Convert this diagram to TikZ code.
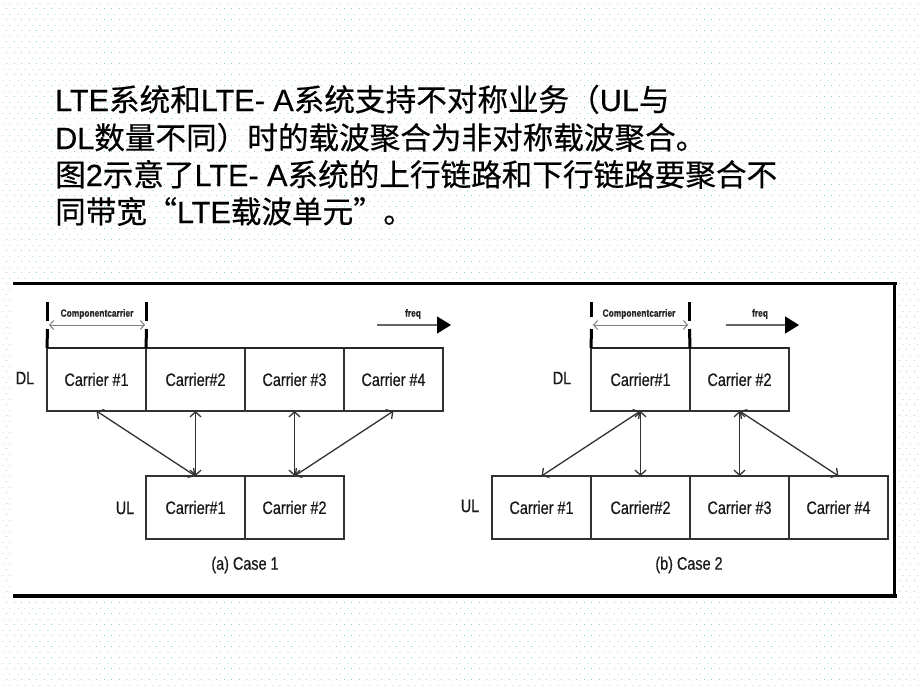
\documentclass[tikz,border=0pt]{standalone}
\usepackage{fontspec}
\setmainfont{Liberation Sans}[FakeBold=0.4]
\newfontfamily\cjk{Noto Sans CJK SC}[FakeBold=0.4]
\newfontfamily\narrow[FakeStretch=0.8,FakeBold=0.5]{Liberation Sans}
\usetikzlibrary{arrows.meta,patterns}
\definecolor{dotc}{RGB}{140,210,200}
\definecolor{linec}{RGB}{50,50,50}
\pgfdeclarepatternformonly{bgdots}{\pgfpointorigin}{\pgfpoint{15pt}{11pt}}{\pgfpoint{15pt}{11pt}}{%
 \pgfpathrectangle{\pgfpoint{0pt}{0pt}}{\pgfpoint{1pt}{1pt}}%
 \pgfpathrectangle{\pgfpoint{7.5pt}{0pt}}{\pgfpoint{1pt}{1pt}}%
 \pgfpathrectangle{\pgfpoint{3.75pt}{5.5pt}}{\pgfpoint{1pt}{1pt}}%
 \pgfpathrectangle{\pgfpoint{11.25pt}{5.5pt}}{\pgfpoint{1pt}{1pt}}%
 \pgfusepath{fill}}
\newcommand{\zh}[1]{{\cjk #1}}
\begin{document}
\begin{tikzpicture}[x=1pt,y=-1pt,
  carrier/.style={draw=linec, line width=1.4pt, minimum width=99pt, minimum height=63pt,
    inner sep=0pt, outer sep=0pt, font=\narrow\fontsize{18}{21}\selectfont, text=black!90},
  lbl/.style={font=\narrow\fontsize{18}{21}\selectfont, text=black!90, inner sep=0pt},
  smalltxt/.style={font=\narrow\bfseries\fontsize{10.5}{12}\selectfont, text=black!85, inner sep=0pt},
  titletxt/.style={font=\fontsize{30.6}{36}\selectfont, anchor=base west, inner sep=0pt},
  linkarrow/.style={draw=linec, line width=1.3pt,
    {Straight Barb[length=5pt,width=11pt]}-{Straight Barb[length=5pt,width=11pt]}},
  cctick/.style={line width=3pt, black},
  ccspan/.style={draw=gray, line width=1pt,
    {Straight Barb[length=4pt,width=9pt]}-{Straight Barb[length=4pt,width=9pt]}},
  freqarrow/.style={draw=gray!80!black, line width=1.3pt,
    -{Triangle[length=14pt,width=17pt,color=black]}},
  frameline/.style={black},
]
\useasboundingbox (0,0) rectangle (920,690);
\fill[white] (0,0) rectangle (920,690);
\fill[pattern=bgdots, pattern color=dotc] (0,0) rectangle (920,690);
\fill[white] (13,283) rectangle (894,595);

% title text
\node[titletxt] (t1) at (55,111) {LTE\zh{系统和}LTE- A\zh{系统支持不对称业务（}UL\zh{与}};
\node[titletxt] (t2) at (55,149) {DL\zh{数量不同）时的载波聚合为非对称载波聚合。}};
\node[titletxt] (t3) at (55,186) {\zh{图}2\zh{示意了}LTE- A\zh{系统的上行链路和下行链路要聚合不}};
\node[titletxt] (t4) at (55,223) {\zh{同带宽}\makebox[30pt][r]{\zh{“}}LTE\zh{载波单元}\makebox[30pt][l]{\zh{”}}\zh{。}};

% frame
\coordinate (fTL) at (13,283);
\coordinate (fTR) at (897,283);
\coordinate (fRT) at (894.5,283);
\coordinate (fRB) at (894.5,597);
\coordinate (fBL) at (13,595.5);
\coordinate (fBR) at (897,595.5);
\draw[frameline, line width=3pt] (fTL) -- (fTR);
\draw[frameline, line width=3pt] (fRT) -- (fRB);
\draw[frameline, line width=4pt] (fBL) -- (fBR);

% ---------- Case 1 ----------
\node[carrier] (a1) at (96.5,379.5) {Carrier \#1};
\node[carrier] (a2) at (195.5,379.5) {Carrier\#2};
\node[carrier] (a3) at (294.5,379.5) {Carrier \#3};
\node[carrier] (a4) at (393.5,379.5) {Carrier \#4};
\node[carrier] (ua1) at (195.5,507.5) {Carrier\#1};
\node[carrier] (ua2) at (294.5,507.5) {Carrier \#2};
\draw[line width=2.6pt, black!85] (a1.north west) -- (a4.north east);
\node[lbl] (dla) at (25,378) {DL};
\node[lbl] (ula) at (125,508) {UL};
\node[lbl] (capa) at (245,565) {(a) Case 1};

\coordinate (ka1) at (47.5,302);
\coordinate (ka2) at (47.5,321);
\coordinate (ka3) at (47.5,329);
\coordinate (ka4) at (146.5,302);
\coordinate (ka5) at (146.5,321);
\coordinate (ka6) at (146.5,329);
\draw[cctick] (ka1) -- (ka2);
\draw[cctick] (ka3) -- (a1.north west);
\draw[cctick] (ka4) -- (ka5);
\draw[cctick] (ka6) -- (a1.north east);
\coordinate (sa1) at (49,325);
\coordinate (sa2) at (145,325);
\draw[ccspan] (sa1) -- (sa2);
\node[smalltxt] (cca) at (97,314) {Componentcarrier};
\coordinate (fa1) at (377,325);
\coordinate (fa2) at (451,325);
\draw[freqarrow] (fa1) -- (fa2);
\node[smalltxt] (fqa) at (413,314) {freq};

\draw[linkarrow] (a1.south) -- (ua1.north);
\draw[linkarrow] (a2.south) -- (ua1.north);
\draw[linkarrow] (a3.south) -- (ua2.north);
\draw[linkarrow] (a4.south) -- (ua2.north);

% ---------- Case 2 ----------
\node[carrier] (b1) at (640.5,379.5) {Carrier\#1};
\node[carrier] (b2) at (739.5,379.5) {Carrier \#2};
\node[carrier] (ub1) at (541.5,507.5) {Carrier \#1};
\node[carrier] (ub2) at (640.5,507.5) {Carrier\#2};
\node[carrier] (ub3) at (739.5,507.5) {Carrier \#3};
\node[carrier] (ub4) at (838.5,507.5) {Carrier \#4};
\draw[line width=2.6pt, black!85] (b1.north west) -- (b2.north east);
\node[lbl] (dlb) at (562,378) {DL};
\node[lbl] (ulb) at (470,506) {UL};
\node[lbl] (capb) at (689,565) {(b) Case 2};

\coordinate (kb1) at (591.5,302);
\coordinate (kb2) at (591.5,317);
\coordinate (kb3) at (591.5,329);
\coordinate (kb4) at (689.5,302);
\coordinate (kb5) at (689.5,321);
\coordinate (kb6) at (689.5,329);
\draw[cctick] (kb1) -- (kb2);
\draw[cctick] (kb3) -- (b1.north west);
\draw[cctick] (kb4) -- (kb5);
\draw[cctick] (kb6) -- (b1.north east);
\coordinate (sb1) at (593,325);
\coordinate (sb2) at (688,325);
\draw[ccspan] (sb1) -- (sb2);
\node[smalltxt] (ccb) at (639,314) {Componentcarrier};
\coordinate (fb1) at (726,325);
\coordinate (fb2) at (799,325);
\draw[freqarrow] (fb1) -- (fb2);
\node[smalltxt] (fqb) at (760,314) {freq};

\draw[linkarrow] (b1.south) -- (ub1.north);
\draw[linkarrow] (b1.south) -- (ub2.north);
\draw[linkarrow] (b2.south) -- (ub3.north);
\draw[linkarrow] (b2.south) -- (ub4.north);
\end{tikzpicture}
\end{document}
